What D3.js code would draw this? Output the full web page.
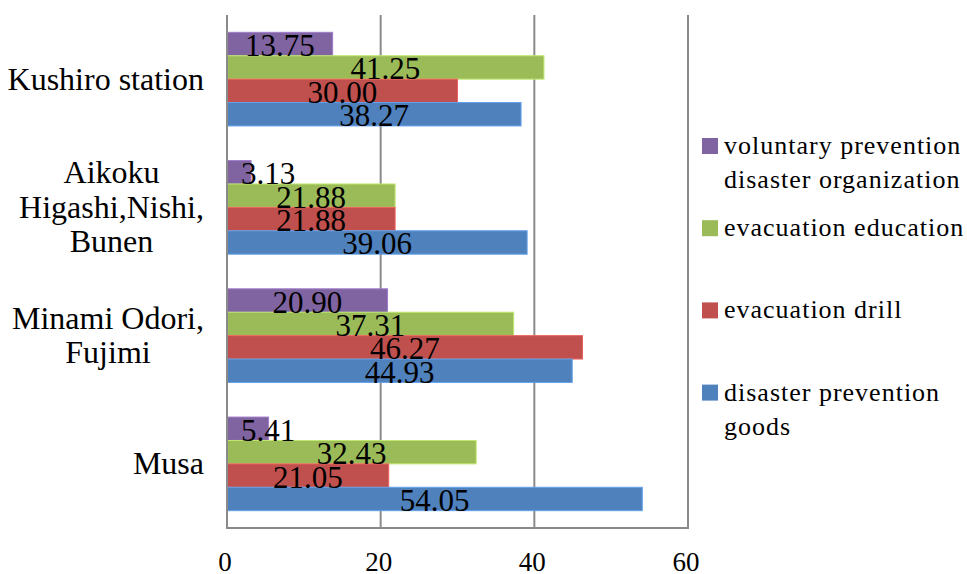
<!DOCTYPE html>
<html>
<head>
<meta charset="utf-8">
<script src="https://cdn.jsdelivr.net/npm/d3@7"></script>
</head>
<body style="margin:0">
<svg id="chart" width="967" height="574"></svg>
<script>
// ---- data ----
const categories = [
  ["Kushiro station"],
  ["Aikoku", "Higashi,Nishi,", "Bunen"],
  ["Minami Odori,", "Fujimi"],
  ["Musa"]
];
const seriesNames = [
  ["voluntary prevention", "disaster organization"],
  ["evacuation education"],
  ["evacuation drill"],
  ["disaster prevention", "goods"]
];
const seriesColors = ["#8064A2", "#9BBB59", "#C0504D", "#4F81BD"];
const voluntaryValues = [13.75, 3.13, 20.90, 5.41];
const educationValues = [41.25, 21.88, 37.31, 32.43];
const drillValues     = [30.00, 21.88, 46.27, 21.05];
const goodsValues     = [38.27, 39.06, 44.93, 54.05];
const xTicks = [0, 20, 40, 60];

const seriesValues = [voluntaryValues, educationValues, drillValues, goodsValues];
const FONT = '"Liberation Serif"';

// approximate advance widths (em) of a Times-metric serif, used instead of DOM measurement
const advance = {
  "A": .722, "B": .667, "F": .556, "H": .722, "K": .722, "M": .889, "N": .722, "O": .722,
  "a": .444, "b": .5, "d": .5, "e": .444, "g": .5, "h": .5, "i": .278, "j": .278, "k": .5,
  "m": .778, "n": .5, "o": .5, "r": .333, "s": .389, "t": .278, "u": .5,
  " ": .25, ",": .25, ".": .25
};
const textWidth = (s, size) => [...s].reduce((w, c) => w + (advance[c] ?? 0.5), 0) * size;

// ---- layout ----
const svg = d3.select("#chart");
const plot = { left: 227, right: 688, top: 15, bottom: 528 };

const x = d3.scaleLinear().domain([0, 60]).range([plot.left, plot.right]);
const catKeys = categories.map((c, i) => i);
const y0 = d3.scaleBand().domain(catKeys).range([plot.top, plot.bottom])
  .paddingInner(0.27).paddingOuter(0.135);
const y1 = d3.scaleBand().domain(d3.range(seriesValues.length)).range([0, y0.bandwidth()]);

const gridColor = "#8a8a8a";

// gridlines
svg.append("g").selectAll("line").data(xTicks.filter(t => t > 0)).join("line")
  .attr("x1", d => x(d)).attr("x2", d => x(d))
  .attr("y1", plot.top).attr("y2", plot.bottom)
  .attr("stroke", gridColor).attr("stroke-width", 2);

// bars
const rows = [];
categories.forEach((c, ci) => {
  seriesValues.forEach((vals, si) => {
    rows.push({ ci, si, v: vals[ci] });
  });
});

svg.append("g").selectAll("rect").data(rows).join("rect")
  .attr("x", x(0))
  .attr("y", d => y0(d.ci) + y1(d.si))
  .attr("width", d => x(d.v) - x(0))
  .attr("height", y1.bandwidth())
  .attr("fill", d => seriesColors[d.si])
  .attr("stroke", d => d3.color(seriesColors[d.si]).brighter(0.6))
  .attr("stroke-width", 1);

// axis lines
svg.append("line").attr("x1", x(0)).attr("x2", x(0)).attr("y1", plot.top).attr("y2", plot.bottom)
  .attr("stroke", gridColor).attr("stroke-width", 2);
svg.append("line").attr("x1", x(0) - 1).attr("x2", x(60) + 1).attr("y1", plot.bottom).attr("y2", plot.bottom)
  .attr("stroke", gridColor).attr("stroke-width", 2);

// value labels (centred on bar, but kept clear of the axis)
const VSIZE = 31;
svg.append("g").selectAll("text").data(rows).join("text")
  .attr("x", d => {
    const w = textWidth(d.v.toFixed(2), VSIZE);
    return Math.max((x(0) + x(d.v)) / 2, x(0) + 14 + w / 2);
  })
  .attr("y", d => y0(d.ci) + y1(d.si) + y1.bandwidth() / 2 + 12)
  .attr("text-anchor", "middle")
  .style("font-family", FONT)
  .style("font-size", VSIZE + "px")
  .text(d => d.v.toFixed(2));

// x tick labels
svg.append("g").selectAll("text").data(xTicks).join("text")
  .attr("x", d => x(d) - 2)
  .attr("y", 571)
  .attr("text-anchor", "middle")
  .style("font-family", FONT)
  .style("font-size", "27px")
  .text(d => d);

// category labels: lines centred on each other, block right-aligned
const CSIZE = 32;
const catG = svg.append("g");
categories.forEach((lines, ci) => {
  const cy = y0(ci) + y0.bandwidth() / 2;
  const lh = 34.5;
  const maxW = d3.max(lines, l => textWidth(l, CSIZE));
  catG.append("g").selectAll("text").data(lines).join("text")
    .attr("x", 204 - maxW / 2)
    .attr("y", (d, i) => cy + 10.5 + (i - (lines.length - 1) / 2) * lh)
    .attr("text-anchor", "middle")
    .style("font-family", FONT)
    .style("font-size", CSIZE + "px")
    .text(d => d);
});

// legend
const legend = svg.append("g");
const legendTop = 146, legendStep = 82.2;
seriesNames.forEach((lines, si) => {
  const cy = legendTop + si * legendStep;
  legend.append("rect")
    .attr("x", 702).attr("y", cy - 8).attr("width", 16).attr("height", 16)
    .attr("fill", seriesColors[si]);
  legend.selectAll(null).data(lines).join("text")
    .attr("x", 724)
    .attr("y", (d, i) => cy + 8 + i * 34)
    .style("font-family", FONT)
    .style("font-size", "26px")
    .style("letter-spacing", "1px")
    .text(d => d);
});
</script>
</body>
</html>
